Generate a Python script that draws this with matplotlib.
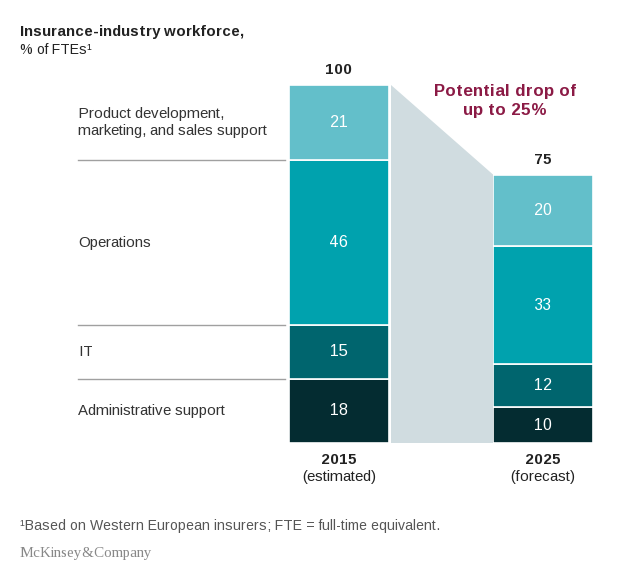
import numpy as np
import matplotlib.pyplot as plt

plt.rcParams['font.family'] = ['Liberation Sans', 'DejaVu Sans']
plt.rcParams['text.hinting_factor'] = 1

# data
years = ['2015', '2025']
year_notes = ['(estimated)', '(forecast)']
categories = ['Product development,\nmarketing, and sales support', 'Operations', 'IT',
              'Administrative support']
vals_2015 = [21, 46, 15, 18]
vals_2025 = [20, 33, 12, 10]
colors = ['#63bfca', '#00a2ae', '#00656e', '#042c31']

W, H = 635, 566
fig = plt.figure(figsize=(W / 100, H / 100), dpi=100)

# axes: value 0 at pixel y=443, value 100 at pixel y=85; bar centers at px 339 and 543
px_per_unit = 204.0
ax = fig.add_axes([0, (H - 443) / H, 1, (443 - 85) / H])
ax.set_xlim(-339 / px_per_unit, (W - 339) / px_per_unit)
ax.set_ylim(0, 100)
ax.axis('off')

bar_w = 100 / px_per_unit
xs = np.arange(len(years))

# stacked from bottom: admin, IT, operations, product
for xi, vals in zip(xs, [vals_2015, vals_2025]):
    bottom = 0
    for v, c in zip(vals[::-1], colors[::-1]):
        ax.bar(xi, v, bottom=bottom, width=bar_w, color=c, edgecolor='white', linewidth=1.2)
        ax.text(xi, bottom + v / 2, str(v), ha='center', va='center', color='white', fontsize=11.5)
        bottom += v
    ax.text(xi, bottom + 2.2, str(sum(vals)), ha='center', va='bottom', fontsize=10.5,
            fontweight='bold', color='#222222')
    ax.text(xi, -2.8, years[xi], ha='center', va='top', fontsize=10.5, fontweight='bold',
            color='#222222')
    ax.text(xi, -7.6, year_notes[xi], ha='center', va='top', fontsize=10.5, color='#222222')

# grey connector showing the drop
t1, t2 = sum(vals_2015), sum(vals_2025)
x0 = xs[0] + bar_w / 2 + 2 / px_per_unit
x1 = xs[1] - bar_w / 2
ax.fill([x0, x1, x1, x0], [t1, t2, 0, 0], color='#d0dce0', linewidth=0)

# left-hand labels and separator lines
lab_x = (78 - 339) / px_per_unit
line_end = (285 - 339) / px_per_unit
top = t1
for i, (cat, v) in enumerate(zip(categories, vals_2015)):
    ax.text(lab_x, top - v / 2, cat, ha='left', va='center', fontsize=10.9,
            color='#333333', linespacing=1.25)
    top -= v
    if i < len(categories) - 1:
        ax.plot([lab_x, line_end], [top, top], color='#a0a0a0', linewidth=1)

ax.text((505 - 339) / px_per_unit, 95.5, 'Potential drop of\nup to 25%', ha='center', va='center',
        fontsize=12.5, fontweight='bold', color='#8b1a45', linespacing=1.3)

# titles and footnotes
fig.text(20 / W, 1 - 32 / H, 'Insurance-industry workforce,', ha='left', va='center',
         fontsize=10.5, fontweight='bold', color='#222222')
fig.text(20 / W, 1 - 50 / H, '% of FTEs\u00b9', ha='left', va='center', fontsize=10.3,
         color='#222222')
fig.text(20 / W, 1 - 526 / H, '\u00b9Based on Western European insurers; FTE = full-time equivalent.',
         ha='left', va='center', fontsize=10.2, color='#555555')
fig.text(20 / W, 1 - 553 / H, 'McKinsey&Company', ha='left', va='center', fontsize=10.7,
         family='Liberation Serif', color='#888888')

fig.savefig('out.png', dpi=100)
